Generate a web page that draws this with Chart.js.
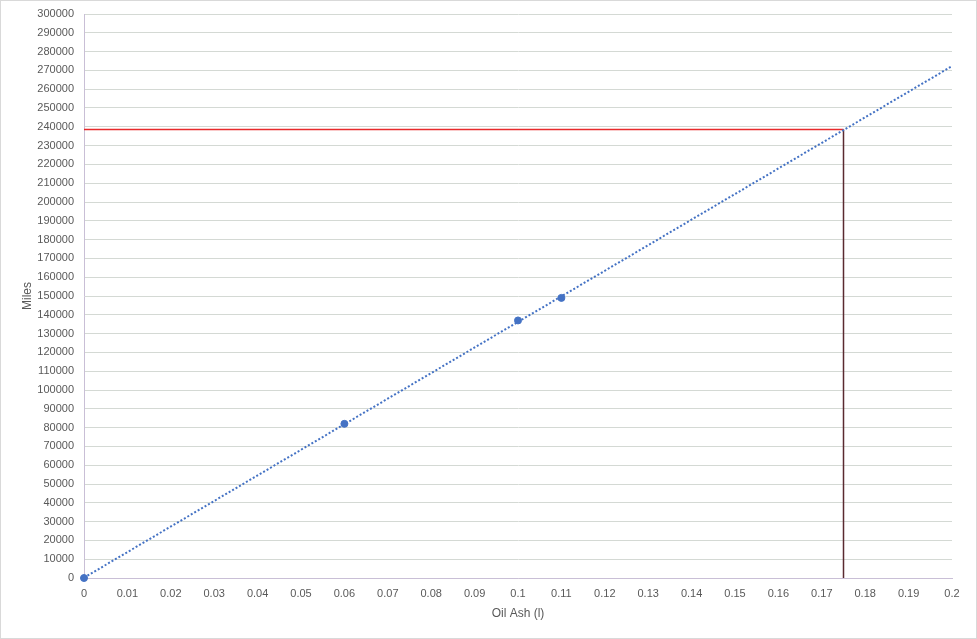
<!DOCTYPE html>
<html lang="en">
<head>
    <meta charset="UTF-8">
    <title>Oil Ash vs Miles</title>
    <script src="https://cdn.jsdelivr.net/npm/chart.js"></script>
    <style>
        body { margin: 0; background: #fff; }
        #wrap { width: 975px; height: 637px; border: 1px solid #d9d9d9; }
    </style>
</head>
<body>
    <div id="wrap">
        <canvas id="ashChart" width="975" height="637"></canvas>
    </div>

    <script>
        // measured points
        const oilAsh = [0, 0.06, 0.1, 0.11];
        const miles = [0, 82000, 137000, 149000];

        // read-off lines
        const targetAsh = 0.175;
        const targetMiles = 238500;

        // axis range
        const xMax = 0.2;
        const yMax = 300000;

        // linear trendline (least squares) over the points, drawn from 0 to xMax
        const n = oilAsh.length;
        const mx = oilAsh.reduce((a, b) => a + b, 0) / n;
        const my = miles.reduce((a, b) => a + b, 0) / n;
        let sxy = 0, sxx = 0;
        for (let i = 0; i < n; i++) {
            sxy += (oilAsh[i] - mx) * (miles[i] - my);
            sxx += (oilAsh[i] - mx) * (oilAsh[i] - mx);
        }
        const slope = sxy / sxx;
        const icpt = my - slope * mx;
        const trend = [0, xMax].map(x => ({ x: x, y: icpt + slope * x }));

        const fontFam = '"Liberation Sans", Arial, sans-serif';
        const txt = '#595959';

        const ctx = document.getElementById('ashChart').getContext('2d');
        new Chart(ctx, {
            type: 'scatter',
            data: {
                datasets: [
                    {
                        label: 'Horizontal',
                        data: [{ x: 0, y: targetMiles }, { x: targetAsh, y: targetMiles }],
                        showLine: true,
                        borderColor: '#e8292b',
                        borderWidth: 1.5,
                        pointRadius: 0,
                        order: 3
                    },
                    {
                        label: 'Vertical',
                        data: [{ x: targetAsh, y: 0 }, { x: targetAsh, y: targetMiles }],
                        showLine: true,
                        borderColor: '#5a2a30',
                        borderWidth: 1.5,
                        pointRadius: 0,
                        order: 3
                    },
                    {
                        label: 'Trend',
                        data: trend,
                        showLine: true,
                        borderColor: '#4472c4',
                        borderWidth: 2,
                        borderDash: [2, 2],
                        pointRadius: 0,
                        order: 2
                    },
                    {
                        label: 'Miles',
                        data: oilAsh.map((x, i) => ({ x: x, y: miles[i] })),
                        backgroundColor: '#4472c4',
                        borderColor: '#4472c4',
                        pointRadius: 3.5,
                        clip: false,
                        order: 1
                    }
                ]
            },
            options: {
                responsive: false,
                animation: false,
                layout: { padding: { top: 13, right: 24, left: 0, bottom: 0 } },
                plugins: {
                    legend: { display: false },
                    tooltip: { enabled: false }
                },
                scales: {
                    x: {
                        type: 'linear',
                        min: 0,
                        max: xMax,
                        grid: { display: false, drawTicks: false },
                        border: { display: true, color: '#c9bfd6', width: 1 },
                        ticks: {
                            stepSize: 0.01,
                            autoSkip: false,
                            maxRotation: 0,
                            padding: 9,
                            color: txt,
                            font: { family: fontFam, size: 11 },
                            callback: v => String(+v.toFixed(2))
                        },
                        title: {
                            display: true,
                            text: 'Oil Ash (l)',
                            color: txt,
                            font: { family: fontFam, size: 12 },
                            padding: { top: 0, bottom: 17 }
                        },
                        afterFit: s => {
                            s.height = 60;
                            s.paddingLeft = 0;
                            s.paddingRight = 0;
                        }
                    },
                    y: {
                        min: 0,
                        max: yMax,
                        grid: { color: '#d4d9d4', drawTicks: false },
                        border: { display: true, color: '#c9bfd6', width: 1 },
                        ticks: {
                            stepSize: 10000,
                            autoSkip: false,
                            padding: 10,
                            color: txt,
                            font: { family: fontFam, size: 11 },
                            callback: v => String(v)
                        },
                        title: {
                            display: true,
                            text: 'Miles',
                            color: txt,
                            font: { family: fontFam, size: 12 },
                            padding: { top: 19, bottom: 0 }
                        },
                        afterFit: s => {
                            s.width = 83;
                            s.paddingTop = 0;
                            s.paddingBottom = 0;
                        }
                    }
                }
            }
        });
    </script>
</body>
</html>
